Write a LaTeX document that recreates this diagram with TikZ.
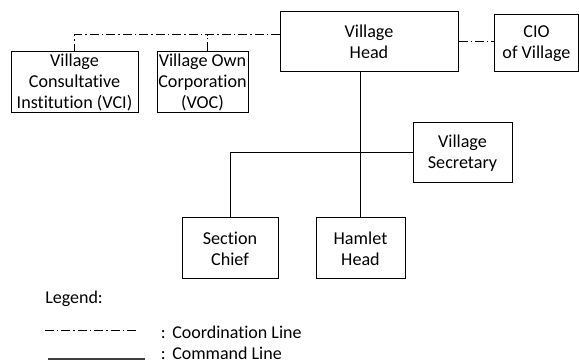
\documentclass[tikz,border=0pt]{standalone}
\usepackage{fontspec}
\setmainfont{Carlito}[Ligatures=NoCommon]
\begin{document}
\begin{tikzpicture}[x=0.75pt,y=-0.75pt,
  box/.style={draw, line width=0.75pt, align=center, inner sep=0pt,
    font=\fontsize{13.6}{16}\selectfont},
  lbl/.style={anchor=west, inner sep=0pt, font=\fontsize{13.5}{16}\selectfont},
  coordline/.style={line width=0.75pt, dash pattern=on 6.75pt off 2.25pt on 1.1pt off 2.25pt},
  cmdline/.style={line width=0.75pt}]
\useasboundingbox (0,0) rectangle (579,363);
\node[box, minimum width=133.5pt, minimum height=45pt] (head) at (369,42) {Village\\Head};
\node[box, minimum width=63pt, minimum height=42.75pt] (cio) at (536.5,43.5) {CIO\\of Village};
\node[box, minimum width=95.25pt, minimum height=45.75pt] (vci) at (74.5,82.5) {Village\\Consultative\\Institution (VCI)};
\node[box, minimum width=68.25pt, minimum height=45.75pt] (voc) at (202.5,82.5) {Village Own\\Corporation\\(VOC)};
\node[box, minimum width=74.25pt, minimum height=45pt] (sec) at (462.5,153) {Village\\Secretary};
\node[box, minimum width=72pt, minimum height=45.75pt] (chief) at (230,248.5) {Section\\Chief};
\node[box, minimum width=66.75pt, minimum height=45.75pt] (hamlet) at (360.5,248.5) {Hamlet\\Head};
\coordinate (joint) at (280,35);
\draw[coordline] (joint) -| (vci.north);
\draw[coordline] ([xshift=4.1pt]voc.north) -- ([xshift=4.1pt]voc.north |- joint);
\draw[coordline] (head.east) -- (head.east -| cio.west);
\draw[cmdline] (head.south -| hamlet.north) -- (hamlet.north);
\draw[cmdline] (sec.west) -| (chief.north);
\node[lbl] (legend) at (45,299) {Legend:};
\node[lbl] (coordtxt) at (160.5,332) {:\hspace{5pt}Coordination Line};
\node[lbl] (cmdtxt) at (160.5,353) {:\hspace{5pt}Command Line};
\coordinate (c1) at (45,330.5);
\coordinate (c2) at (139,330.5);
\coordinate (m1) at (48,359);
\coordinate (m2) at (145,359);
\draw[coordline] (c1) -- (c2);
\draw[line width=1.2pt, black!75] (m1) -- (m2);
\end{tikzpicture}
\end{document}
